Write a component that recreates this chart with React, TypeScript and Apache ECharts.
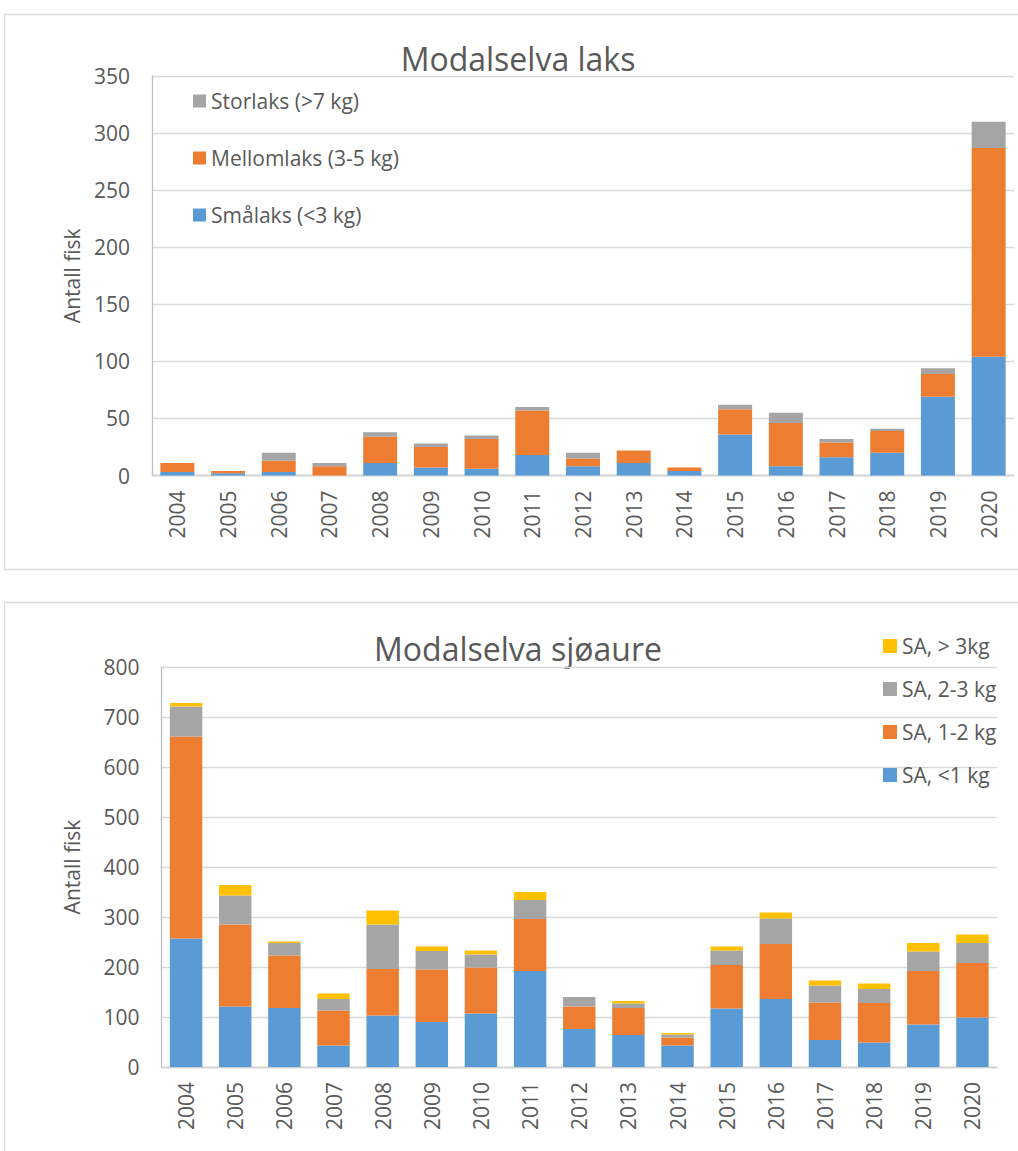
import React, { useEffect, useRef } from "react";
import * as echarts from "echarts";

const years = ["2004","2005","2006","2007","2008","2009","2010","2011","2012","2013","2014","2015","2016","2017","2018","2019","2020"];

// Modalselva laks
const smalaks = [3, 2, 3, 0, 11, 7, 6, 18, 8, 11, 4, 36, 8, 16, 20, 69, 104];
const mellomlaks = [8, 2, 10, 8, 23, 18, 26, 39, 7, 11, 3, 22, 38, 13, 19, 20, 183];
const storlaks = [0, 0, 7, 3, 4, 3, 3, 3, 5, 0, 0, 4, 9, 3, 2, 5, 23];

// Modalselva sjøaure
const saLt1 = [257, 121, 118, 43, 103, 90, 107, 192, 76, 64, 43, 117, 136, 54, 49, 85, 99];
const sa12 = [404, 164, 105, 70, 93, 105, 92, 104, 45, 54, 16, 87, 110, 75, 79, 107, 109];
const sa23 = [60, 58, 25, 23, 89, 37, 26, 38, 19, 9, 6, 29, 51, 34, 28, 39, 40];
const saGt3 = [7, 21, 3, 11, 28, 9, 8, 16, 0, 5, 3, 8, 12, 10, 11, 17, 17];

const laksTicks = { min: 0, max: 350, interval: 50 };
const sjoTicks = { min: 0, max: 800, interval: 100 };

const BLUE = "#5B9BD5";
const ORANGE = "#ED7D31";
const GREY = "#A5A5A5";
const YELLOW = "#FFC000";
const TEXT = "#595959";
const FONT = "'Open Sans', sans-serif";

export default function App() {
  const ref = useRef<HTMLDivElement>(null);
  useEffect(() => {
    if (!ref.current) return;
    const chart = echarts.init(ref.current, undefined, { renderer: "svg" });
    const axisLabel = { color: TEXT, fontSize: 21, fontFamily: FONT };
    const xAxisCommon = {
      type: "category",
      data: years,
      axisTick: { show: false },
      axisLine: { show: true, lineStyle: { color: "#D0D0D0", width: 1.3 } },
      axisLabel: { ...axisLabel, rotate: 90, margin: 15 },
    };
    const yAxisCommon = {
      type: "value",
      axisTick: { show: false },
      axisLine: { show: true, lineStyle: { color: "#BFBFBF", width: 1.3 } },
      splitLine: { show: true, lineStyle: { color: "#D9D9D9", width: 1.3 } },
      axisLabel: { ...axisLabel, margin: 22 },
      name: "Antall fisk",
      nameLocation: "middle",
      nameRotate: 90,
      nameTextStyle: { color: TEXT, fontSize: 21, fontFamily: FONT },
    };
    const bar = (name: string, data: number[], color: string, idx: number, gap: string) => ({
      type: "bar",
      name,
      data,
      stack: "s" + idx,
      xAxisIndex: idx,
      yAxisIndex: idx,
      barCategoryGap: gap,
      itemStyle: { color },
    });
    chart.setOption({
      animation: false,
      backgroundColor: "#ffffff",
      grid: [
        { left: 152, top: 76, width: 862, height: 399.5 },
        { left: 161.5, top: 667, width: 835.5, height: 400 },
      ],
      xAxis: [
        { ...xAxisCommon, gridIndex: 0 },
        { ...xAxisCommon, gridIndex: 1 },
      ],
      yAxis: [
        { ...yAxisCommon, gridIndex: 0, ...laksTicks, nameGap: 70 },
        { ...yAxisCommon, gridIndex: 1, ...sjoTicks, nameGap: 79 },
      ],
      legend: [
        {
          orient: "vertical",
          left: 188,
          top: 85.5,
          itemWidth: 13,
          itemHeight: 13,
          itemGap: 36,
          icon: "rect",
          data: ["Storlaks (>7 kg)", "Mellomlaks (3-5 kg)", "Smålaks (<3 kg)"],
          textStyle: { color: TEXT, fontSize: 21, fontFamily: FONT },
        },
        {
          orient: "vertical",
          left: 878,
          top: 630.5,
          itemWidth: 14,
          itemHeight: 14,
          itemGap: 22,
          icon: "rect",
          data: ["SA, > 3kg", "SA, 2-3 kg", "SA, 1-2 kg", "SA, <1 kg"],
          textStyle: { color: TEXT, fontSize: 21, fontFamily: FONT },
        },
      ],
      graphic: [
        {
          type: "rect",
          shape: { x: 4.5, y: 14.5, width: 1030, height: 555 },
          style: { fill: "none", stroke: "#D9D9D9", lineWidth: 1.3 },
          silent: true,
          z: -10,
        },
        {
          type: "rect",
          shape: { x: 4.5, y: 602.5, width: 1030, height: 570 },
          style: { fill: "none", stroke: "#D9D9D9", lineWidth: 1.3 },
          silent: true,
          z: -10,
        },
        {
          type: "text",
          x: 518,
          y: 58,
          style: {
            text: "Modalselva laks",
            fill: TEXT,
            fontSize: 32,
            fontFamily: FONT,
            align: "center",
            verticalAlign: "middle",
          },
        },
        {
          type: "text",
          x: 518,
          y: 648,
          style: {
            text: "Modalselva sjøaure",
            fill: TEXT,
            fontSize: 32,
            fontFamily: FONT,
            align: "center",
            verticalAlign: "middle",
          },
        },
      ],
      series: [
        bar("Smålaks (<3 kg)", smalaks, BLUE, 0, "33%"),
        bar("Mellomlaks (3-5 kg)", mellomlaks, ORANGE, 0, "33%"),
        bar("Storlaks (>7 kg)", storlaks, GREY, 0, "33%"),
        bar("SA, <1 kg", saLt1, BLUE, 1, "34%"),
        bar("SA, 1-2 kg", sa12, ORANGE, 1, "34%"),
        bar("SA, 2-3 kg", sa23, GREY, 1, "34%"),
        bar("SA, > 3kg", saGt3, YELLOW, 1, "34%"),
      ],
    });
    return () => chart.dispose();
  }, []);
  return (
    <div
      ref={ref}
      style={{ position: "absolute", left: 0, top: 0, width: 1018, height: 1151 }}
    />
  );
}
